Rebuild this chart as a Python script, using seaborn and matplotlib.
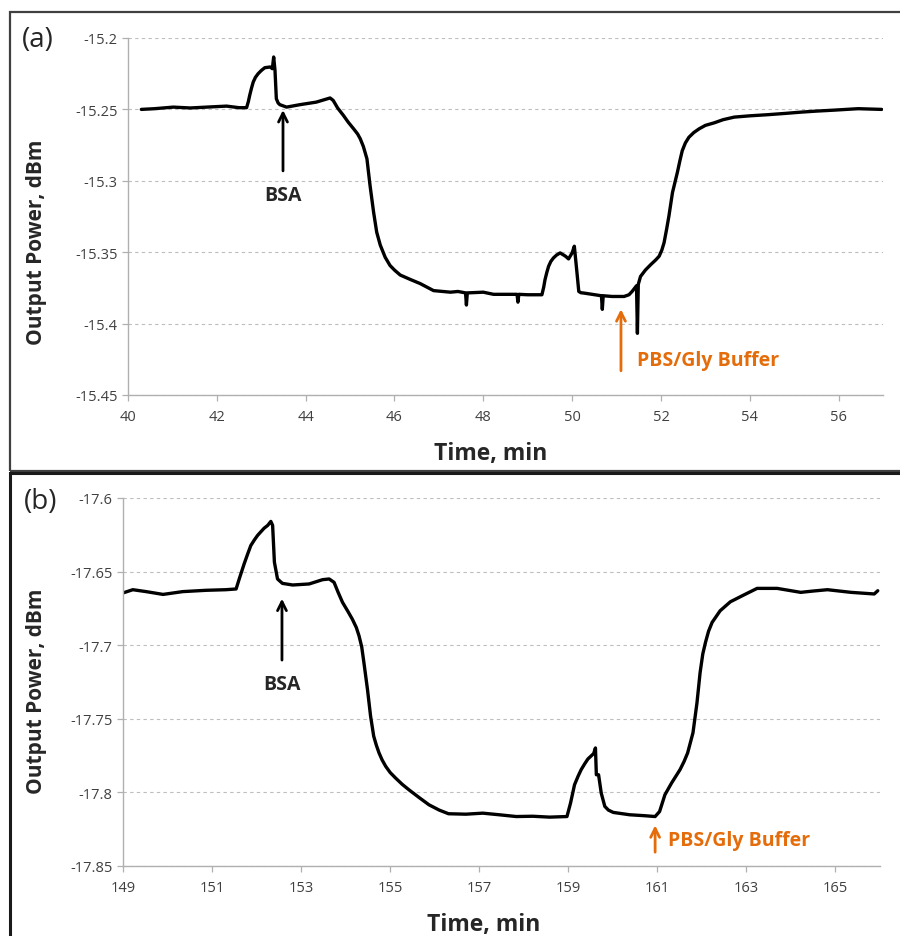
import numpy as np
import pandas as pd
import seaborn as sns
import matplotlib.pyplot as plt
from matplotlib.patches import Rectangle

# Panel (a) trace
time_a = [40.3, 40.6, 41.02, 41.4, 41.77, 42.22, 42.5, 42.67, 42.71, 42.74, 42.78, 42.82,
          42.87, 42.93, 43.0, 43.08, 43.2, 43.25, 43.28, 43.31, 43.34, 43.38, 43.42, 43.57,
          43.87, 44.24, 44.55, 44.62, 44.72, 44.85, 44.96, 45.08, 45.17, 45.23, 45.3, 45.38,
          45.45, 45.53, 45.6, 45.68, 45.79, 45.9, 46.0, 46.13, 46.35, 46.58, 46.88, 47.26,
          47.43, 47.6, 47.62, 47.64, 48.0, 48.23, 48.5, 48.76, 48.78, 48.8, 49.0, 49.32,
          49.36, 49.39, 49.43, 49.47, 49.52, 49.58, 49.65, 49.73, 49.85, 49.92, 50.0, 50.05,
          50.11, 50.15, 50.2, 50.26, 50.45, 50.66, 50.68, 50.7, 50.9, 51.17, 51.28, 51.35,
          51.45, 51.47, 51.49, 51.54, 51.65, 51.77, 51.88, 51.96, 52.02, 52.07, 52.13, 52.18,
          52.26, 52.37, 52.43, 52.48, 52.55, 52.63, 52.74, 52.86, 53.0, 53.2, 53.4, 53.65,
          54.0, 54.41, 54.8, 55.16, 55.5, 55.91, 56.44, 56.97]
power_a = [-15.25, -15.2495, -15.2484, -15.249, -15.2484, -15.2477, -15.2488, -15.2488,
           -15.2445, -15.2402, -15.2352, -15.2308, -15.2275, -15.225, -15.2228, -15.2208,
           -15.2203, -15.2215, -15.2133, -15.2227, -15.2425, -15.2455, -15.2467, -15.2484,
           -15.2467, -15.2449, -15.242, -15.2437, -15.249, -15.2542, -15.259, -15.2636,
           -15.2672, -15.2706, -15.276, -15.2846, -15.3033, -15.322, -15.336, -15.345,
           -15.3535, -15.3593, -15.3625, -15.366, -15.369, -15.372, -15.3769, -15.378,
           -15.3775, -15.3785, -15.387, -15.3785, -15.378, -15.3795, -15.3795, -15.3795,
           -15.385, -15.3795, -15.3798, -15.3798, -15.3745, -15.3692, -15.3642, -15.3599,
           -15.3565, -15.354, -15.352, -15.3505, -15.3528, -15.3547, -15.3505, -15.3458,
           -15.3646, -15.3775, -15.3784, -15.3786, -15.3795, -15.3805, -15.39, -15.3805,
           -15.381, -15.381, -15.3798, -15.3775, -15.3735, -15.4068, -15.3725, -15.367,
           -15.3625, -15.3587, -15.3555, -15.3528, -15.3485, -15.3434, -15.3335, -15.3246,
           -15.3082, -15.2941, -15.2855, -15.2789, -15.2735, -15.2695, -15.2662, -15.2636,
           -15.2612, -15.2594, -15.2572, -15.2554, -15.2545, -15.2537, -15.2528, -15.2519,
           -15.2512, -15.2505, -15.2495, -15.25]

# Panel (b) trace
time_b = [149.0, 149.22, 149.52, 149.9, 150.34, 150.87, 151.31, 151.54, 151.61, 151.72,
          151.8, 151.87, 151.95, 152.02, 152.1, 152.17, 152.25, 152.32, 152.36, 152.4,
          152.47, 152.58, 152.81, 153.18, 153.48, 153.63, 153.74, 153.83, 153.93, 154.05,
          154.15, 154.24, 154.3, 154.36, 154.41, 154.49, 154.56, 154.63, 154.69, 154.75,
          154.82, 154.9, 155.0, 155.12, 155.27, 155.42, 155.65, 155.87, 156.1, 156.31,
          156.7, 157.08, 157.45, 157.83, 158.2, 158.58, 158.97, 159.05, 159.14, 159.22,
          159.29, 159.37, 159.44, 159.57, 159.61, 159.63, 159.68, 159.74, 159.82, 159.9,
          160.01, 160.38, 160.7, 160.95, 161.05, 161.17, 161.32, 161.51, 161.6, 161.68,
          161.8, 161.89, 161.96, 162.02, 162.08, 162.15, 162.23, 162.41, 162.64, 162.94,
          163.24, 163.69, 164.22, 164.5, 164.82, 165.35, 165.87, 165.95]
power_b = [-17.6645, -17.6623, -17.6636, -17.6655, -17.6636, -17.6627, -17.6623, -17.6618,
           -17.655, -17.6448, -17.638, -17.6323, -17.6285, -17.6255, -17.6228, -17.6205,
           -17.6186, -17.6159, -17.6186, -17.6436, -17.655, -17.658, -17.6591, -17.6584,
           -17.6555, -17.655, -17.6573, -17.664, -17.6709, -17.677, -17.6823, -17.688,
           -17.6936, -17.701, -17.7118, -17.73, -17.7482, -17.7618, -17.768, -17.7732,
           -17.778, -17.7823, -17.7865, -17.7902, -17.7945, -17.7982, -17.8035, -17.8084,
           -17.812, -17.8145, -17.8148, -17.8141, -17.8152, -17.8164, -17.8162, -17.8168,
           -17.8164, -17.8073, -17.7948, -17.789, -17.7845, -17.7805, -17.7773, -17.7736,
           -17.7698, -17.788, -17.788, -17.8005, -17.8095, -17.812, -17.8136, -17.8152,
           -17.8158, -17.8164, -17.813, -17.8016, -17.7936, -17.7845, -17.779, -17.7732,
           -17.7595, -17.7391, -17.7186, -17.706, -17.6982, -17.6905, -17.6845, -17.6766,
           -17.6705, -17.6659, -17.6614, -17.6614, -17.6641, -17.6632, -17.6623, -17.6641,
           -17.6652, -17.663]

xticks_a = [40, 42, 44, 46, 48, 50, 52, 54, 56]
yticks_a = [-15.45, -15.4, -15.35, -15.3, -15.25, -15.2]
xticks_b = [149, 151, 153, 155, 157, 159, 161, 163, 165]
yticks_b = [-17.85, -17.8, -17.75, -17.7, -17.65, -17.6]
ytick_labels_a = ['-15.45', '-15.4', '-15.35', '-15.3', '-15.25', '-15.2']
ytick_labels_b = ['-17.85', '-17.8', '-17.75', '-17.7', '-17.65', '-17.6']

sns.set_style('white')
plt.rcParams['font.family'] = ['Open Sans', 'DejaVu Sans']

orange = '#e46c0a'
fig = plt.figure(figsize=(9, 9.37), dpi=100)

# panel frames
fig.patches.append(Rectangle((10 / 900, 1 - 472 / 937), 892 / 900, 459 / 937,
                             transform=fig.transFigure, fill=False, ec='#404040', lw=1.6))
fig.patches.append(Rectangle((10 / 900, -0.01), 892 / 900, 1 - 474 / 937 + 0.01,
                             transform=fig.transFigure, fill=False, ec='#1a1a1a', lw=2.2))

ax_a = fig.add_axes([128 / 900, 1 - 396 / 937, 755 / 900, 357 / 937])
ax_b = fig.add_axes([123 / 900, 1 - 867 / 937, 757 / 900, 368 / 937])

df_a = pd.DataFrame({'time': time_a, 'power': power_a})
df_b = pd.DataFrame({'time': time_b, 'power': power_b})
sns.lineplot(data=df_a, x='time', y='power', ax=ax_a, color='black', lw=2.4, estimator=None)
sns.lineplot(data=df_b, x='time', y='power', ax=ax_b, color='black', lw=2.4, estimator=None)

settings = [
    (ax_a, (40, 57), (-15.45, -15.2), xticks_a, yticks_a, ytick_labels_a,
     (0.48, -0.13), (-0.107, 0.43)),
    (ax_b, (149, 166), (-17.85, -17.6), xticks_b, yticks_b, ytick_labels_b,
     (0.476, -0.125), (-0.1, 0.478)),
]
for ax, xl, yl, xt, yt, ytl, xlab_pos, ylab_pos in settings:
    ax.set_xlim(*xl)
    ax.set_ylim(*yl)
    ax.set_xticks(xt)
    ax.set_yticks(yt)
    ax.set_yticklabels(ytl)
    for s in ['top', 'right']:
        ax.spines[s].set_visible(False)
    for s in ['left', 'bottom']:
        ax.spines[s].set_color('#b0b0b0')
        ax.spines[s].set_linewidth(1.0)
    ax.grid(axis='y', color='#bdbdbd', linestyle=(0, (3, 3)), lw=0.8)
    ax.set_axisbelow(True)
    ax.tick_params(axis='both', which='major', length=4, width=0.9, color='#b0b0b0',
                   labelsize=10.5, labelcolor='#404040', direction='out',
                   bottom=True, left=True)
    ax.tick_params(axis='x', pad=6)
    ax.set_xlabel('Time, min', fontsize=16.5, fontweight='bold')
    ax.set_ylabel('Output Power, dBm', fontsize=15, fontweight='bold')
    ax.xaxis.set_label_coords(*xlab_pos)
    ax.yaxis.set_label_coords(*ylab_pos)

fig.text(38 / 900, 1 - 40 / 937, '(a)', fontsize=20, ha='center', va='center')
fig.text(41 / 900, 1 - 502 / 937, '(b)', fontsize=20, ha='center', va='center')

arrow_k = dict(arrowstyle='->', color='black', lw=2, mutation_scale=16)
arrow_o = dict(arrowstyle='->', color=orange, lw=2, mutation_scale=16)

ax_a.annotate('', xy=(43.49, -15.2485), xytext=(43.49, -15.295), arrowprops=arrow_k)
ax_a.text(43.49, -15.31, 'BSA', ha='center', va='center', fontsize=14, fontweight='bold')
ax_a.annotate('', xy=(51.1, -15.388), xytext=(51.1, -15.435), arrowprops=arrow_o)
ax_a.text(51.45, -15.4256, 'PBS/Gly Buffer', ha='left', va='center', fontsize=14,
          fontweight='bold', color=orange)

ax_b.annotate('', xy=(152.57, -17.6665), xytext=(152.57, -17.712), arrowprops=arrow_k)
ax_b.text(152.57, -17.7266, 'BSA', ha='center', va='center', fontsize=14, fontweight='bold')
ax_b.annotate('', xy=(160.95, -17.8205), xytext=(160.95, -17.8425), arrowprops=arrow_o)
ax_b.text(161.25, -17.832, 'PBS/Gly Buffer', ha='left', va='center', fontsize=14,
          fontweight='bold', color=orange)

fig.savefig('out.png', dpi=100)
